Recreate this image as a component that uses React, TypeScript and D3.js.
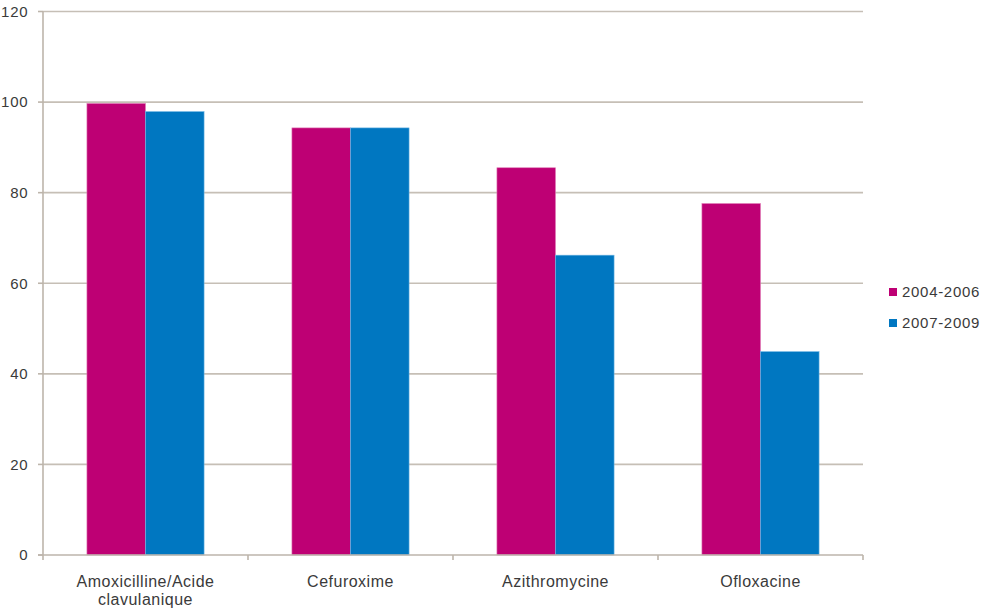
import React from "react";
import * as d3 from "d3";

// Antibiotic categories (label lines) and the two survey periods
const categories = ["Amoxicilline/Acide clavulanique", "Cefuroxime", "Azithromycine", "Ofloxacine"];
const categoryLines = [["Amoxicilline/Acide", "clavulanique"], ["Cefuroxime"], ["Azithromycine"], ["Ofloxacine"]];
const seriesNames = ["2004-2006", "2007-2009"];
const values2004_2006 = [99.7, 94.3, 85.5, 77.6];
const values2007_2009 = [97.9, 94.3, 66.2, 44.9];
const yTicks = [0, 20, 40, 60, 80, 100, 120];

const seriesColors = ["#BE0074", "#0077C1"];
const seriesEdges = ["#E07CB6", "#6FB6E4"];

const W = 985;
const H = 611;
const left = 43;
const right = 863;
const top = 11.5;
const bottom = 555;

export default function App() {
  const x = d3.scaleBand<string>().domain(categories).range([left, right]).padding(0);
  const xInner = d3
    .scaleBand<string>()
    .domain(seriesNames)
    .range([0, x.bandwidth()])
    .paddingInner(0)
    .paddingOuter(0.75);
  const y = d3.scaleLinear().domain([0, 120]).range([bottom, top]);

  const seriesValues = [values2004_2006, values2007_2009];
  const gridColor = "#C6BFB6";
  const axisColor = "#BDB5AB";
  const textColor = "#3A3A3A";
  const font = "'Liberation Sans', Arial, sans-serif";

  const boundaries = [...categories.map((c) => x(c)!), right];

  return (
    <svg
      width={W}
      height={H}
      style={{ position: "absolute", left: 0, top: 0, background: "#fff" }}
      fontFamily={font}
    >
      {/* horizontal gridlines and y-axis ticks */}
      {yTicks.map((t) => (
        <g key={t}>
          {t > 0 && (
            <line x1={left} x2={right} y1={y(t)} y2={y(t)} stroke={gridColor} strokeWidth={1.6} />
          )}
          <line x1={left - 5} x2={left} y1={y(t)} y2={y(t)} stroke={axisColor} strokeWidth={1.6} />
          <text
            x={28.5}
            y={y(t)}
            dy="0.36em"
            textAnchor="end"
            fontSize={15}
            letterSpacing={0.8}
            fill={textColor}
          >
            {t}
          </text>
        </g>
      ))}

      {/* bars */}
      {categories.map((c, i) => (
        <g key={c} transform={`translate(${x(c)},0)`}>
          {seriesNames.map((s, j) => {
            const v = seriesValues[j][i];
            return (
              <rect
                key={s}
                x={xInner(s)!}
                y={y(v)}
                width={xInner.bandwidth()}
                height={y(0) - y(v)}
                fill={seriesColors[j]}
                stroke={seriesEdges[j]}
                strokeWidth={0.6}
              />
            );
          })}
        </g>
      ))}

      {/* axes */}
      <line x1={left} x2={left} y1={top} y2={bottom} stroke={axisColor} strokeWidth={1.6} />
      <line x1={left - 5} x2={right} y1={bottom} y2={bottom} stroke={axisColor} strokeWidth={1.6} />
      {boundaries.map((b, i) => (
        <line key={i} x1={b} x2={b} y1={bottom} y2={bottom + 5} stroke={axisColor} strokeWidth={1.6} />
      ))}

      {/* category labels */}
      {categories.map((c, i) => (
        <text
          key={c}
          x={x(c)! + x.bandwidth() / 2}
          y={587}
          textAnchor="middle"
          fontSize={16}
          letterSpacing={0.5}
          fill={textColor}
        >
          {categoryLines[i].map((line, k) => (
            <tspan key={k} x={x(c)! + x.bandwidth() / 2} dy={k === 0 ? 0 : 18}>
              {line}
            </tspan>
          ))}
        </text>
      ))}

      {/* legend */}
      {seriesNames.map((s, j) => (
        <g key={s} transform={`translate(889,${288 + j * 31})`}>
          <rect x={0} y={0} width={8} height={8} fill={seriesColors[j]} />
          <text x={13} y={4} dy="0.36em" fontSize={15} fill={textColor} letterSpacing={0.7}>
            {s}
          </text>
        </g>
      ))}
    </svg>
  );
}
